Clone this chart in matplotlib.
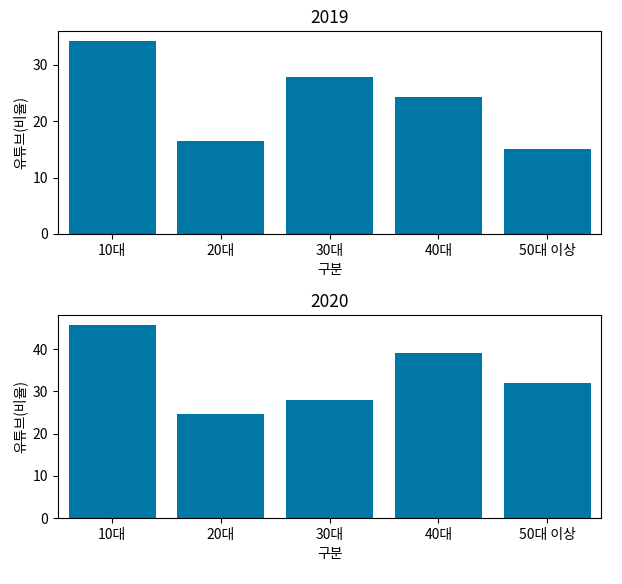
import matplotlib
matplotlib.use("Agg")
import matplotlib.pyplot as plt

plt.rcParams["font.family"] = ["Noto Sans CJK KR", "DejaVu Sans"]
plt.rcParams["axes.unicode_minus"] = False

categories = ["10대", "20대", "30대", "40대", "50대 이상"]
youtube_2019 = [34.3, 16.5, 27.9, 24.3, 15.1]
youtube_2020 = [45.8, 24.6, 28.0, 39.1, 32.0]
years = ["2019", "2020"]

BAR_COLOR = "#0077a4"

fig, axes = plt.subplots(2, 1, figsize=(6.22, 5.84), dpi=100)
for ax, year, vals in zip(axes, years, [youtube_2019, youtube_2020]):
    x = range(len(categories))
    ax.bar(x, vals, width=0.8, color=BAR_COLOR)
    ax.set_xticks(list(x))
    ax.set_xticklabels(categories)
    ax.tick_params(labelsize=10)
    ax.set_xlim(-0.5, len(categories) - 0.5)
    ax.set_title(year, fontsize=12.5)
    ax.set_xlabel("구분", fontsize=10)
    ax.set_ylabel("유튜브(비율)", fontsize=10)

fig.subplots_adjust(left=0.093, right=0.967, top=0.947, bottom=0.113, hspace=0.4)
fig.savefig("out.png", dpi=100)
